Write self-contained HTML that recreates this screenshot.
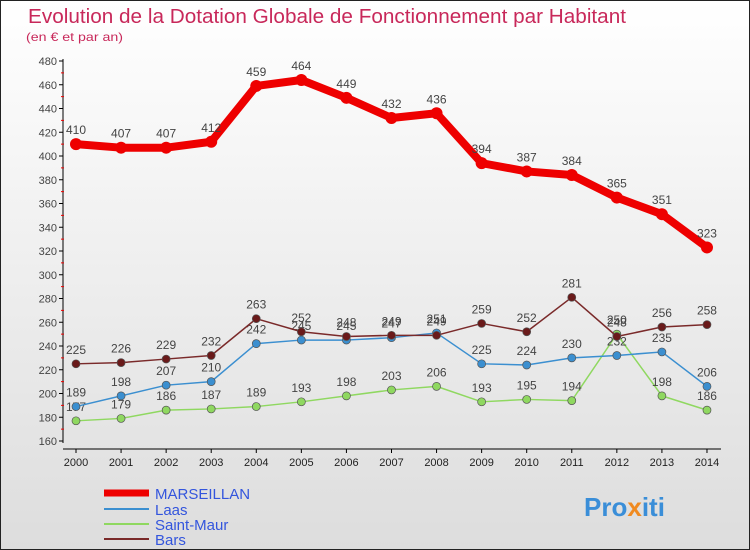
<!DOCTYPE html>
<html><head><meta charset="utf-8"><style>
body{margin:0}
#c{width:748px;height:548px;border:1px solid #222;background:linear-gradient(#fff,#ddd);position:relative;font-family:"Liberation Sans",sans-serif;overflow:hidden}
</style></head><body>
<div id="c">
<svg width="748" height="548" id="s">
<text x="27" y="22" font-size="20" fill="#c8285a" textLength="598" lengthAdjust="spacingAndGlyphs">Evolution de la Dotation Globale de Fonctionnement par Habitant</text>
<text x="25" y="40" font-size="12" fill="#c8285a" textLength="97" lengthAdjust="spacingAndGlyphs">(en € et par an)</text>
<g id="ax"></g><g id="ser"></g>
<g>
<line x1="103" y1="492" x2="148" y2="492" stroke="#e00" stroke-width="7"/><text x="154" y="498" font-size="15" fill="#3355dd">MARSEILLAN</text>
<line x1="103" y1="508" x2="148" y2="508" stroke="#3b8fd0" stroke-width="2"/><text x="154" y="514" font-size="15" fill="#3355dd">Laas</text>
<line x1="103" y1="523" x2="148" y2="523" stroke="#8fd860" stroke-width="2"/><text x="154" y="529" font-size="15" fill="#3355dd">Saint-Maur</text>
<line x1="103" y1="538" x2="148" y2="538" stroke="#7a2a2a" stroke-width="2"/><text x="154" y="544" font-size="15" fill="#3355dd">Bars</text>
</g>
<text x="583" y="515" font-size="26" font-weight="bold" fill="#3a8ed8">Pro<tspan fill="#f08a20">x</tspan>iti</text>
</svg></div>
<script>
const years=[2000,2001,2002,2003,2004,2005,2006,2007,2008,2009,2010,2011,2012,2013,2014];
const marseillan=[410,407,407,412,459,464,449,432,436,394,387,384,365,351,323];
const laas=[189,198,207,210,242,245,245,247,251,225,224,230,232,235,206];
const saintMaur=[177,179,186,187,189,193,198,203,206,193,195,194,250,198,186];
const bars=[225,226,229,232,263,252,248,249,249,259,252,281,248,256,258];
const yTicks=[160,180,200,220,240,260,280,300,320,340,360,380,400,420,440,460,480];
const NS="http://www.w3.org/2000/svg";
const X=i=>75+i*45.07, Y=v=>440-(v-160)*380/320;
function mk(t,a,p){const e=document.createElementNS(NS,t);for(const k in a)e.setAttribute(k,a[k]);p.appendChild(e);return e;}
const ax=document.getElementById('ax'),ser=document.getElementById('ser');
const yl=mk('line',{x1:62,y1:58,x2:62,y2:442,stroke:'#000'},ax);


yTicks.forEach(v=>{mk('line',{x1:58,x2:62,y1:Y(v),y2:Y(v),stroke:'#000'},ax);
const t=mk('text',{x:56,y:Y(v)+4,'font-size':11,'text-anchor':'end',fill:'#444'},ax);t.textContent=v;


if(v<480){mk('line',{x1:60,x2:63,y1:Y(v+10),y2:Y(v+10),stroke:'#e00'},ax);}});
const xl=mk('line',{x1:62,y1:448,x2:720,y2:448,stroke:'#000'},ax);


years.forEach((y,i)=>{mk('line',{x1:X(i),x2:X(i),y1:448,y2:452,stroke:'#000'},ax);
const t=mk('text',{x:X(i),y:465,'font-size':11,'text-anchor':'middle',fill:'#222'},ax);t.textContent=y;

});
function series(d,col,w,r,name,fill){
const g=mk('g',{},ser);


mk('polyline',{points:d.map((v,i)=>X(i)+','+Y(v)).join(' '),fill:'none',stroke:col,'stroke-width':w,'stroke-linejoin':'round'},g);
d.forEach((v,i)=>{const c=mk('circle',{cx:X(i),cy:Y(v),r:r,fill:fill,stroke:w>3?col:'#555','stroke-width':w>3?0:0.7},g);


const t=mk('text',{x:X(i),y:Y(v)-10,'font-size':12,'text-anchor':'middle',fill:'#444'},g);t.textContent=v;

});}
series(saintMaur,'#8fd860',1.5,4,'saint-maur-series','#8fd860');
series(laas,'#3b8fd0',1.5,4,'laas-series','#3b8fd0');
series(bars,'#7a2a2a',1.5,4,'bars-series','#6a1a1a');
series(marseillan,'#e00',8,6,'marseillan-series','#e00');
</script>
</body></html>
